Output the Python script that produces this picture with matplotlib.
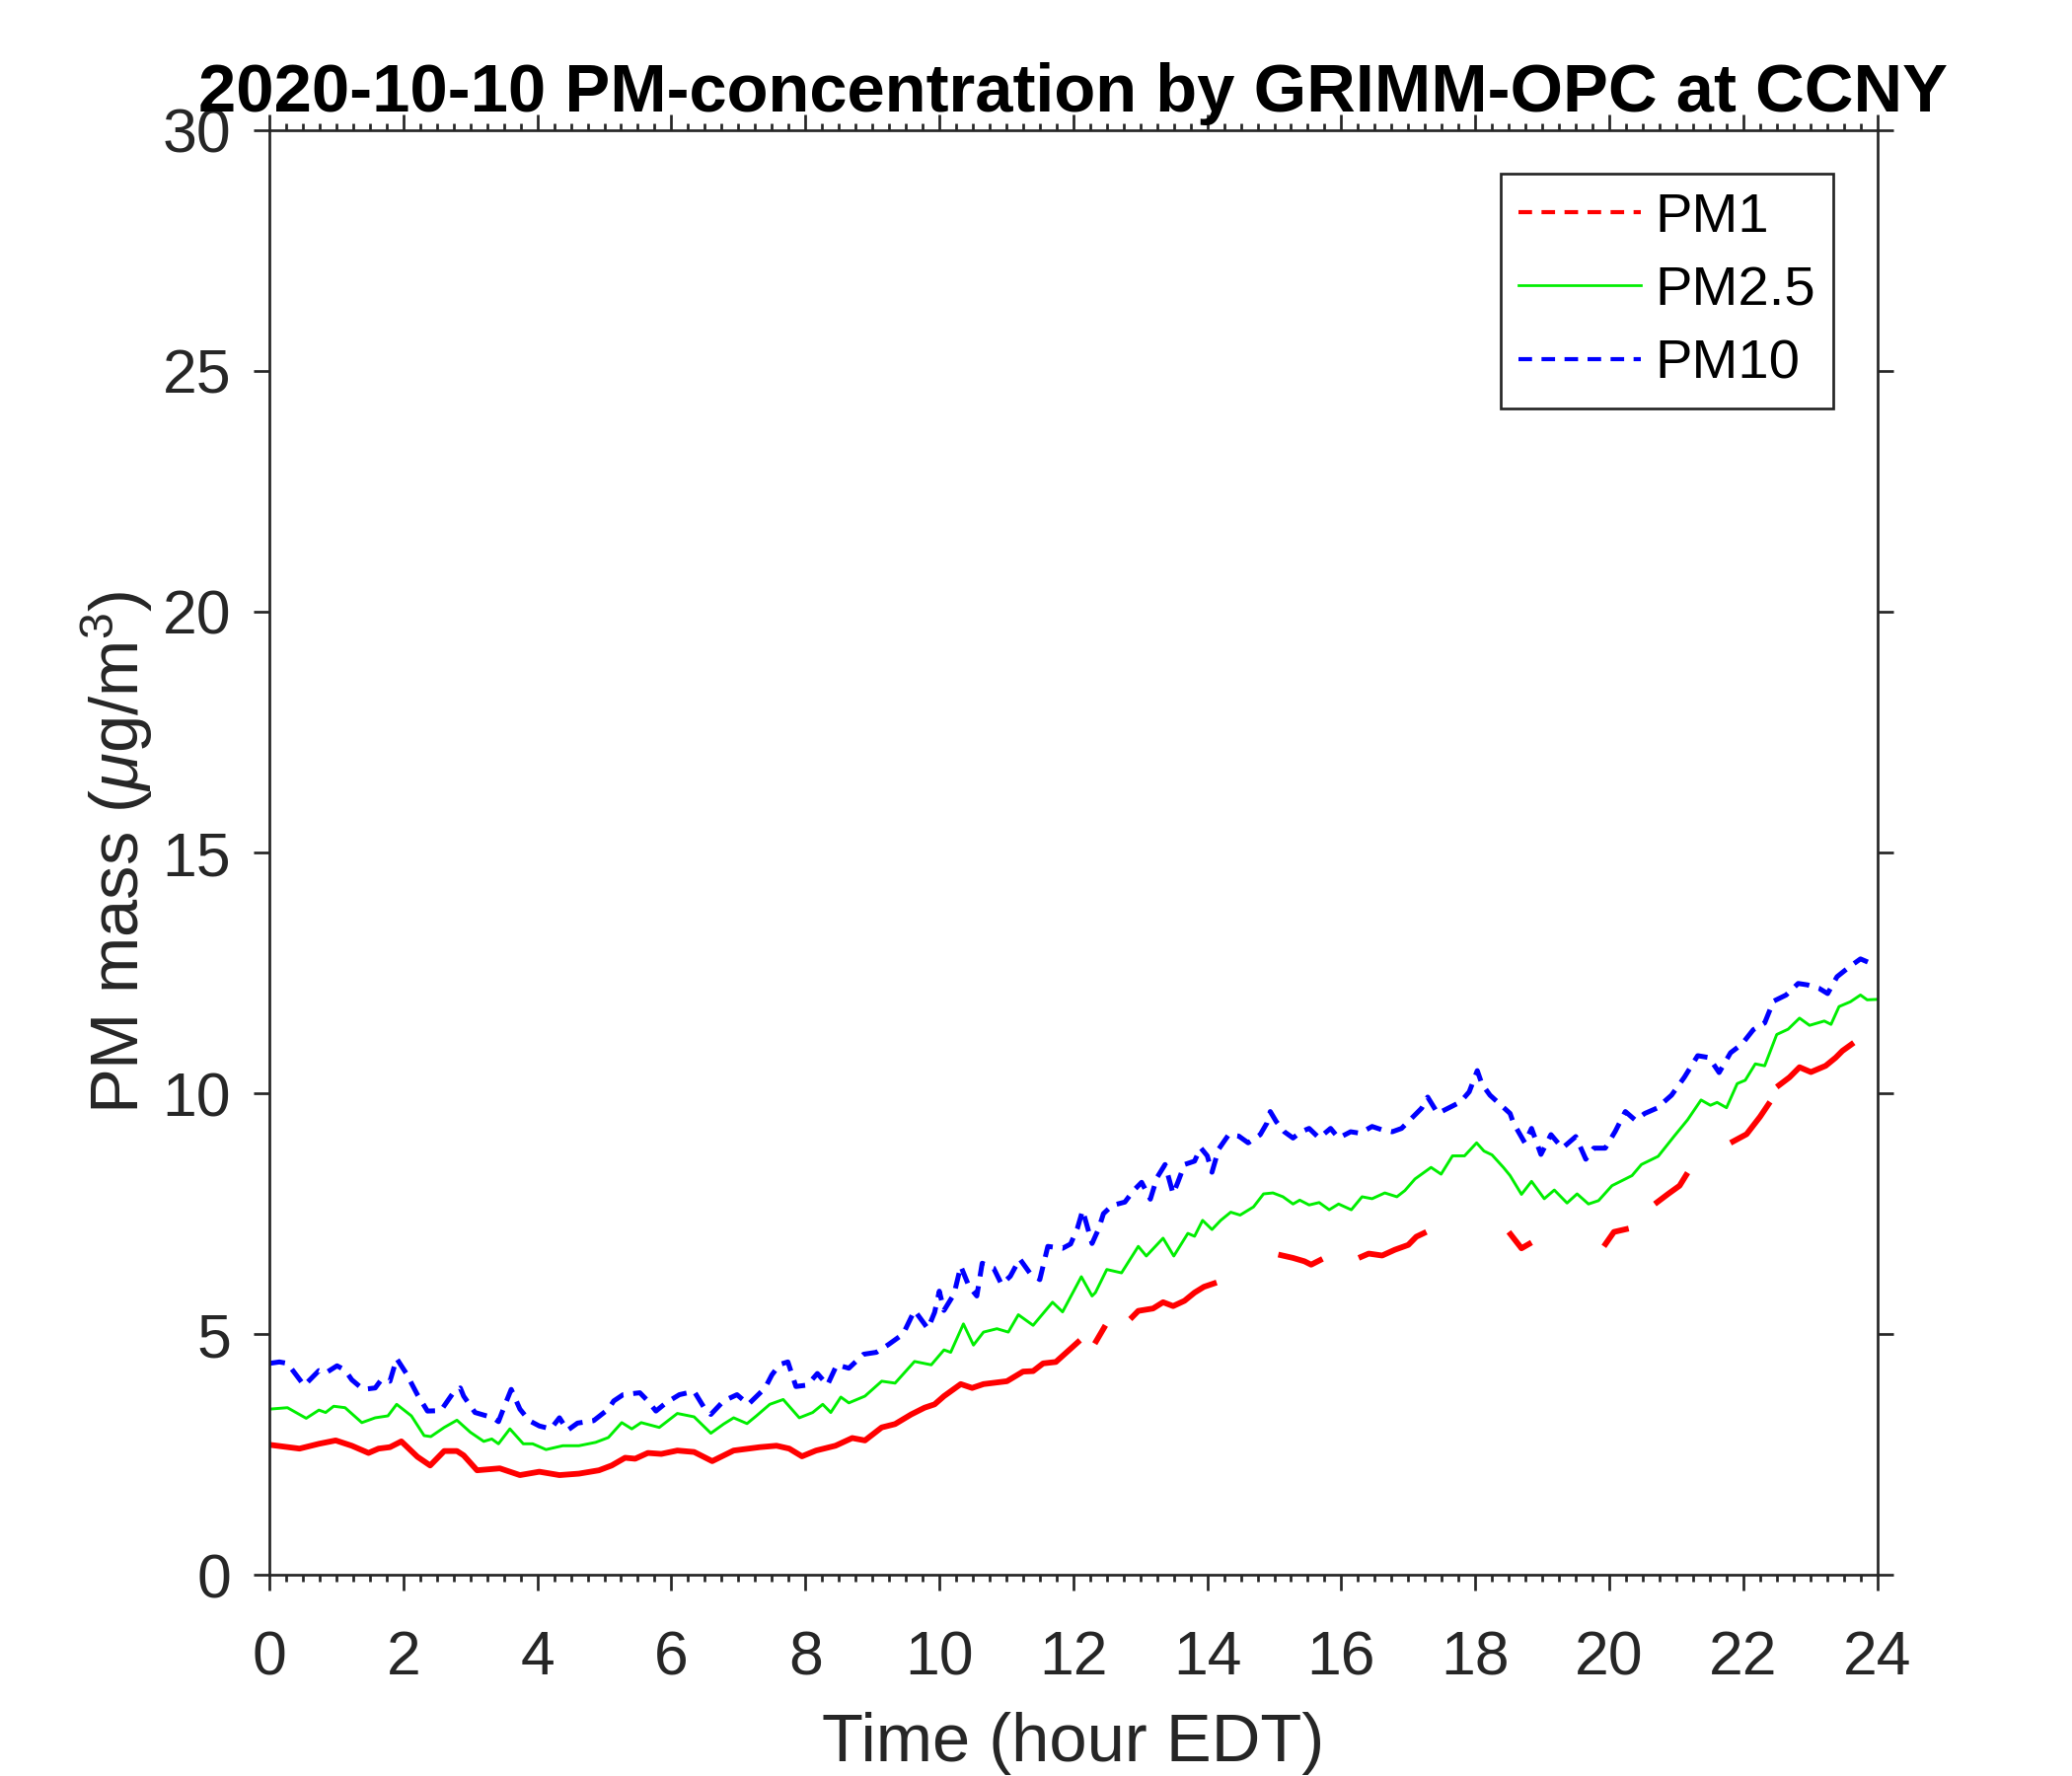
import numpy as np
import matplotlib
matplotlib.use("Agg")
import matplotlib.pyplot as plt
from matplotlib.lines import Line2D
from matplotlib.ticker import MultipleLocator

# values (hour EDT, ug/m3); None = no visible line
hour_pm25 = [0.0, 0.27, 0.55, 0.74, 0.84, 0.96, 1.13, 1.38, 1.58, 1.77, 1.90, 2.12, 2.31, 2.41,
             2.61, 2.80, 3.00, 3.20, 3.32, 3.42, 3.59, 3.79, 3.93, 4.13, 4.38, 4.62, 4.87, 5.06,
             5.26, 5.41, 5.55, 5.82, 6.09, 6.34, 6.59, 6.78, 6.93, 7.13, 7.27, 7.47, 7.67, 7.91,
             8.11, 8.26, 8.38, 8.53, 8.65, 8.89, 9.14, 9.34, 9.63, 9.88, 10.07, 10.17, 10.36,
             10.51, 10.66, 10.86, 11.03, 11.18, 11.40, 11.69, 11.84, 12.12, 12.28, 12.33, 12.50,
             12.72, 12.97, 13.09, 13.34, 13.50, 13.71, 13.81, 13.93, 14.07, 14.20, 14.35, 14.49,
             14.69, 14.84, 14.98, 15.13, 15.28, 15.38, 15.52, 15.67, 15.82, 15.96, 16.15, 16.31,
             16.46, 16.65, 16.83, 16.95, 17.10, 17.34, 17.49, 17.66, 17.84, 18.02, 18.13, 18.25,
             18.42, 18.52, 18.69, 18.84, 19.03, 19.18, 19.37, 19.52, 19.69, 19.84, 20.04, 20.34,
             20.48, 20.73, 20.97, 21.17, 21.37, 21.51, 21.61, 21.75, 21.91, 22.03, 22.18, 22.32,
             22.50, 22.67, 22.84, 22.99, 23.21, 23.31, 23.43, 23.60, 23.75, 23.85, 24.00]
pm25 = [3.44, 3.47, 3.25, 3.42, 3.37, 3.50, 3.47, 3.16, 3.26, 3.30, 3.54, 3.30, 2.89, 2.87,
        3.06, 3.21, 2.96, 2.77, 2.82, 2.72, 3.03, 2.72, 2.72, 2.60, 2.68, 2.68, 2.75, 2.85,
        3.16, 3.03, 3.16, 3.06, 3.35, 3.28, 2.94, 3.13, 3.26, 3.14, 3.30, 3.54, 3.64, 3.26,
        3.37, 3.54, 3.37, 3.69, 3.57, 3.71, 4.02, 3.98, 4.43, 4.36, 4.67, 4.62, 5.21,
        4.77, 5.04, 5.11, 5.04, 5.40, 5.18, 5.66, 5.46, 6.19, 5.79, 5.86, 6.34,
        6.27, 6.82, 6.62, 6.99, 6.62, 7.09, 7.03, 7.36, 7.17, 7.36, 7.53, 7.47,
        7.64, 7.91, 7.93, 7.85, 7.70, 7.78, 7.68, 7.73, 7.58, 7.70, 7.58, 7.85,
        7.81, 7.93, 7.85, 7.98, 8.22, 8.46, 8.32, 8.70, 8.70, 8.97, 8.80, 8.72,
        8.46, 8.29, 7.90, 8.17, 7.81, 7.99, 7.72, 7.91, 7.70, 7.77, 8.08, 8.29,
        8.52, 8.69, 9.11, 9.45, 9.86, 9.75, 9.81, 9.70, 10.20, 10.27, 10.61, 10.57,
        11.22, 11.33, 11.56, 11.41, 11.50, 11.43, 11.80, 11.90, 12.04, 11.94, 11.95]

hour_pm1 = [0.0, 0.45, 0.74, 0.99, 1.23, 1.48, 1.63, 1.80, 1.97, 2.21, 2.40, 2.61, 2.80, 2.90,
            3.10, 3.44, 3.74, 4.03, 4.33, 4.62, 4.92, 5.11, 5.31, 5.46, 5.65, 5.85, 6.09, 6.34,
            6.61, 6.93, 7.32, 7.57, 7.76, 7.95, 8.16, 8.45, 8.70, 8.89, 9.14, 9.34, 9.58, 9.78,
            9.93, 10.07, 10.32, 10.49, 10.66, 11.01, 11.25, 11.40, 11.55, 11.74, 11.94, 12.10,
            12.20, 12.32, 12.48, 12.65, 12.85, 12.97, 13.19, 13.34, 13.49, 13.66, 13.81, 13.95,
            14.14, 14.60, 15.06, 15.28, 15.45, 15.55, 15.72, 15.90, 16.26, 16.41, 16.61, 16.80,
            17.00, 17.12, 17.27, 17.90, 18.50, 18.69, 18.84, 19.40, 19.92, 20.07, 20.29, 20.50,
            20.68, 20.88, 21.05, 21.17, 21.50, 21.81, 22.05, 22.25, 22.40, 22.45, 22.50, 22.69,
            22.84, 23.01, 23.23, 23.38, 23.48, 23.65]
pm1 = [2.70, 2.62, 2.72, 2.79, 2.68, 2.53, 2.62, 2.65, 2.77, 2.45, 2.27, 2.57, 2.57, 2.48,
       2.17, 2.21, 2.07, 2.14, 2.07, 2.10, 2.17, 2.27, 2.43, 2.41, 2.53, 2.51, 2.58, 2.55,
       2.36, 2.58, 2.65, 2.68, 2.62, 2.46, 2.58, 2.68, 2.84, 2.79, 3.06, 3.13, 3.33, 3.47,
       3.54, 3.71, 3.96, 3.88, 3.96, 4.02, 4.22, 4.23, 4.39, 4.42, 4.67, 4.87,
       None, 4.80, 5.18, None, 5.31, 5.48, 5.53, 5.66, 5.58, 5.69, 5.86, 5.98,
       6.07, None, 6.65, 6.58, 6.51, 6.44, 6.56, None, 6.58, 6.67, 6.63, 6.75,
       6.85, 7.02, 7.12, None, 7.12, 6.78, 6.90, None, 6.82, 7.12, 7.19, None,
       7.70, 7.91, 8.08, 8.35, None, 8.97, 9.15, 9.51, 9.82, None, 10.13, 10.33,
       10.54, 10.44, 10.57, 10.74, 10.88, 11.05]

hour_pm10 = [0.0, 0.15, 0.27, 0.40, 0.52, 0.74, 0.84, 1.01, 1.13, 1.23, 1.40, 1.58, 1.67, 1.80,
             1.90, 2.04, 2.21, 2.36, 2.56, 2.73, 2.85, 2.90, 3.07, 3.34, 3.42, 3.52, 3.61, 3.74,
             3.88, 4.03, 4.20, 4.33, 4.45, 4.60, 4.84, 5.06, 5.14, 5.28, 5.53, 5.65, 5.77, 5.92,
             6.12, 6.34, 6.49, 6.59, 6.78, 6.98, 7.15, 7.40, 7.50, 7.62, 7.74, 7.86, 8.03, 8.18,
             8.33, 8.47, 8.65, 8.87, 9.06, 9.24, 9.46, 9.63, 9.83, 9.93, 10.00, 10.07, 10.22,
             10.32, 10.44, 10.56, 10.64, 10.81, 10.93, 11.06, 11.20, 11.35, 11.50, 11.62, 11.84,
             11.96, 12.06, 12.14, 12.28, 12.38, 12.45, 12.58, 12.77, 12.90, 13.02, 13.15, 13.25,
             13.37, 13.49, 13.56, 13.66, 13.81, 13.90, 14.00, 14.07, 14.17, 14.32, 14.47, 14.61,
             14.79, 14.89, 14.94, 15.03, 15.15, 15.28, 15.40, 15.52, 15.67, 15.84, 15.96, 16.14,
             16.28, 16.46, 16.61, 16.76, 16.90, 17.05, 17.20, 17.29, 17.44, 17.64, 17.78, 17.91,
             18.03, 18.10, 18.22, 18.37, 18.52, 18.57, 18.74, 18.84, 18.98, 19.13, 19.30, 19.50,
             19.65, 19.77, 19.94, 20.09, 20.24, 20.39, 20.53, 20.71, 20.93, 21.12, 21.32, 21.49,
             21.64, 21.81, 21.98, 22.15, 22.32, 22.45, 22.64, 22.82, 22.96, 23.13, 23.26, 23.40,
             23.58, 23.75, 23.90, 23.98]
pm10 = [4.39, 4.42, 4.39, 4.15, 3.93, 4.24, 4.19, 4.34, 4.25, 4.05, 3.85, 3.88, 4.05, 4.02,
        4.49, 4.19, 3.74, 3.40, 3.41, 3.75, 3.88, 3.71, 3.37, 3.26, 3.18, 3.54, 3.85, 3.44,
        3.20, 3.09, 3.03, 3.26, 3.00, 3.15, 3.20, 3.44, 3.61, 3.74, 3.78, 3.61, 3.40, 3.57,
        3.74, 3.81, 3.47, 3.33, 3.61, 3.74, 3.54, 3.88, 4.15, 4.37, 4.42, 3.91, 3.94, 4.18,
        3.94, 4.36, 4.29, 4.58, 4.62, 4.78, 5.00, 5.49, 5.11, 5.45, 5.89, 5.49, 5.83,
        6.41, 6.00, 5.79, 6.47, 6.37, 6.03, 6.20, 6.56, 6.27, 6.13, 6.82, 6.78,
        6.87, 7.19, 7.57, 6.88, 7.19, 7.50, 7.67, 7.74, 7.98, 8.15, 7.80, 8.25,
        8.52, 7.91, 8.15, 8.52, 8.59, 8.87, 8.70, 8.36, 8.84, 9.14, 9.11, 8.97,
        9.14, 9.38, 9.62, 9.41, 9.20, 9.07, 9.20, 9.27, 9.07, 9.27, 9.07, 9.20,
        9.17, 9.31, 9.24, 9.20, 9.27, 9.48, 9.69, 9.92, 9.58, 9.72, 9.82, 10.03,
        10.47, 10.19, 9.96, 9.77, 9.58, 9.38, 8.97, 9.27, 8.73, 9.14, 8.86, 9.10,
        8.63, 8.86, 8.86, 9.21, 9.62, 9.44, 9.58, 9.69, 9.96, 10.33, 10.78, 10.74,
        10.43, 10.84, 11.02, 11.32, 11.46, 11.91, 12.04, 12.28, 12.25, 12.18, 12.07, 12.42,
        12.62, 12.79, 12.70, 12.73]

title = "2020-10-10 PM-concentration by GRIMM-OPC at CCNY"
labels = ["PM1", "PM2.5", "PM10"]

plt.rcParams["font.family"] = ["Liberation Sans", "DejaVu Sans"]
plt.rcParams["mathtext.fontset"] = "custom"
plt.rcParams["mathtext.rm"] = "Liberation Sans"
plt.rcParams["mathtext.it"] = "Liberation Sans:italic"

dark = "#262626"
fig = plt.figure(figsize=(7, 6), dpi=300)
ax = fig.add_axes([0.130, 0.1133, 0.776, 0.8134])

ax.plot(hour_pm1, np.array(pm1, dtype=float), color="red", lw=1.4, solid_capstyle="butt")
ax.plot(hour_pm25, pm25, color="#00ee00", lw=0.7)
ax.plot(hour_pm10, pm10, color="blue", lw=1.2, dashes=(3.2, 2.0))

ax.set_xlim(0, 24)
ax.set_ylim(0, 30)
ax.xaxis.set_major_locator(MultipleLocator(2))
ax.xaxis.set_minor_locator(MultipleLocator(0.25))
ax.yaxis.set_major_locator(MultipleLocator(5))
ax.tick_params(axis="both", which="both", direction="out", width=0.65, color=dark,
               labelcolor=dark, labelsize=15, top=True, right=True)
ax.tick_params(axis="both", which="major", length=3.8)
ax.tick_params(axis="x", which="minor", length=1.7)
ax.tick_params(axis="x", which="major", pad=9.5)
ax.tick_params(axis="y", which="major", pad=5.5)
for s in ax.spines.values():
    s.set_linewidth(0.65)
    s.set_color(dark)

ax.set_xlabel("Time (hour EDT)", fontsize=16.5, color=dark, va="top")
ax.xaxis.set_label_coords(0.5, -0.095)
ax.set_ylabel(r"PM mass ($\mu$g/m$^3$)", fontsize=16.5, color=dark)
ax.yaxis.set_label_coords(-0.071, 0.5)

fig.text(0.5179, 0.9372, title, ha="center", va="baseline", fontsize=16.5,
         fontweight="bold", color="black")

handles = [Line2D([], [], color="red", lw=1.0, dashes=(3.3, 2.3)),
           Line2D([], [], color="#00ee00", lw=0.65),
           Line2D([], [], color="blue", lw=1.0, dashes=(3.3, 2.3))]
leg = ax.legend(handles, labels, loc="upper right", bbox_to_anchor=(0.8848, 0.9022),
                bbox_transform=fig.transFigure, borderaxespad=0, fontsize=13.5,
                handlelength=2.2, handletextpad=0.25, labelspacing=0.4, borderpad=0.33,
                fancybox=False, framealpha=1)
leg.get_frame().set_edgecolor(dark)
leg.get_frame().set_linewidth(0.65)

fig.savefig("out.png", dpi=300)
